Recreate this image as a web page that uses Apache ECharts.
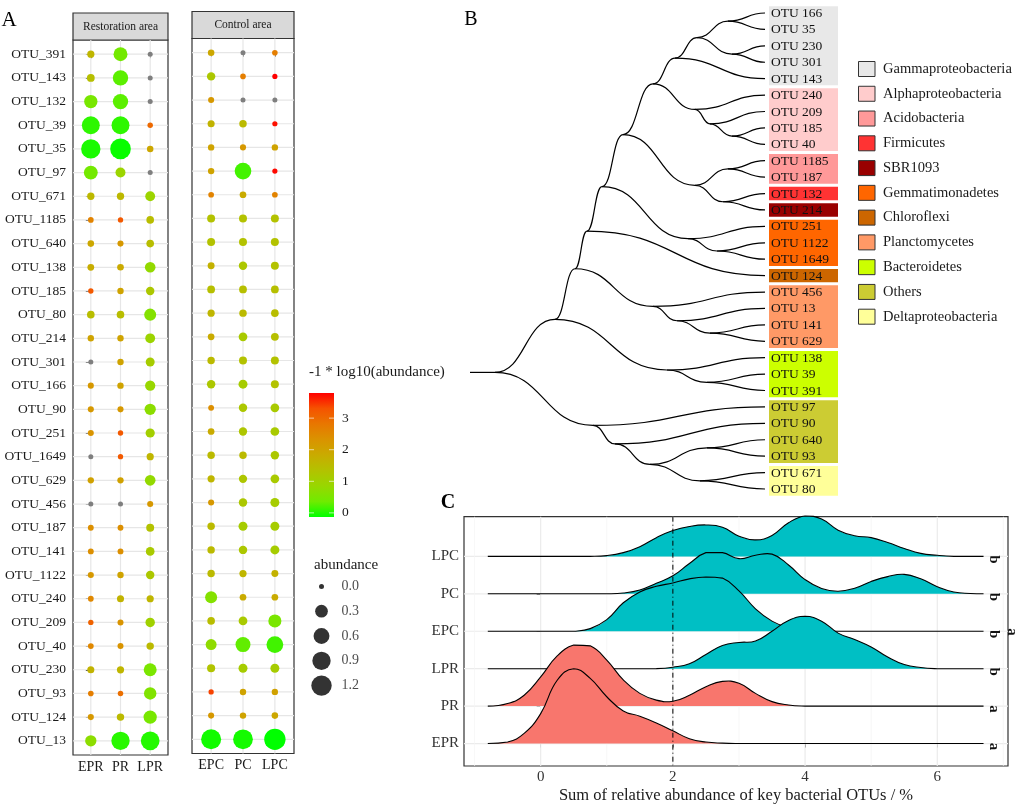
<!DOCTYPE html>
<html><head><meta charset="utf-8">
<script src="https://cdn.jsdelivr.net/npm/echarts@6/dist/echarts.min.js"></script>
<style>html,body{margin:0;padding:0;background:#fff}#c{width:1024px;height:807px}</style>
</head><body><div id="c"></div>
<script>
// ---------------- Panel A data ----------------
const otuRows = ['OTU_391','OTU_143','OTU_132','OTU_39','OTU_35','OTU_97','OTU_671','OTU_1185','OTU_640','OTU_138',
  'OTU_185','OTU_80','OTU_214','OTU_301','OTU_166','OTU_90','OTU_251','OTU_1649','OTU_629','OTU_456',
  'OTU_187','OTU_141','OTU_1122','OTU_240','OTU_209','OTU_40','OTU_230','OTU_93','OTU_124','OTU_13'];
const restSamples = ['EPR','PR','LPR'];
const ctrlSamples = ['EPC','PC','LPC'];
// abundance (0 = absent, drawn grey)
const abEPR = [0.025,0.04,0.35,0.85,1.04,0.40,0.028,0.0025,0.012,0.016,
  0.0006,0.035,0.01,0,0.006,0.006,0.005,0,0.009,0,
  0.004,0.004,0.006,0.003,0.0008,0.003,0.022,0.002,0.006,0.2];
const abPR = [0.40,0.54,0.54,0.85,1.24,0.126,0.028,0.0006,0.006,0.014,
  0.01,0.035,0.01,0.01,0.01,0.006,0.0006,0.0006,0.009,0,
  0.004,0.004,0.01,0.022,0.005,0.005,0.025,0.0012,0.03,0.9];
const abLPR = [0,0,0,0.001,0.012,0,0.12,0.035,0.035,0.16,
  0.06,0.25,0.12,0.08,0.14,0.2,0.09,0.025,0.16,0.006,
  0.045,0.07,0.06,0.025,0.1,0.03,0.32,0.28,0.35,0.95];
const abEPC = [0.012,0.06,0.006,0.022,0.01,0.01,0.0025,0.045,0.045,0.02,
  0.04,0.025,0.015,0.03,0.06,0.004,0.015,0.03,0.025,0.006,
  0.03,0.03,0.03,0.25,0.035,0.18,0.05,0.0004,0.006,1.14];
const abPC = [0,0.002,0,0.03,0.006,0.69,0.015,0.045,0.045,0.06,
  0.04,0.03,0.07,0.045,0.08,0.06,0.055,0.03,0.055,0.06,
  0.08,0.06,0.025,0.015,0.07,0.5,0.08,0.01,0.01,1.1];
const abLPC = [0.002,0.00016,0,0.0002,0.01,0.00018,0.0025,0.045,0.045,0.045,
  0.04,0.035,0.04,0.045,0.045,0.07,0.07,0.06,0.07,0.08,
  0.08,0.08,0.02,0.015,0.33,0.7,0.08,0.009,0.012,1.35];
const sizeBreaks = [0, 0.3, 0.6, 0.9, 1.2];
const colorTicks = [0, 1, 2, 3];

// ---------------- Panel B data ----------------
const treeLeaves = ['OTU 166','OTU 35','OTU 230','OTU 301','OTU 143','OTU 240','OTU 209','OTU 185','OTU 40','OTU 1185',
  'OTU 187','OTU 132','OTU 214','OTU 251','OTU 1122','OTU 1649','OTU 124','OTU 456','OTU 13','OTU 141',
  'OTU 629','OTU 138','OTU 39','OTU 391','OTU 97','OTU 90','OTU 640','OTU 93','OTU 671','OTU 80'];
const groupNames = ['Gammaproteobacteria','Alphaproteobacteria','Acidobacteria','Firmicutes','SBR1093',
  'Gemmatimonadetes','Chloroflexi','Planctomycetes','Bacteroidetes','Others','Deltaproteobacteria'];
const groupColors = ['#E8E8E8','#FFCCCC','#FF9999','#FF3333','#990000','#FF6600','#CC6600','#FF9966','#CCFF00','#CCCC33','#FFFF99'];
const leafGroups = [0,0,0,0,0,1,1,1,1,2,2,3,4,5,5,5,6,7,7,7,7,8,8,8,9,9,9,9,10,10];
// [child, child, merge height]; numbers refer to earlier merges
const treeMerges = [
  ['OTU 166','OTU 35',37], ['OTU 230','OTU 301',33], [0,1,68], [2,'OTU 143',90],
  ['OTU 185','OTU 40',33], ['OTU 209',4,55], ['OTU 240',5,70], [3,6,112],
  ['OTU 1185','OTU 187',37], ['OTU 132','OTU 214',42], [8,9,70], [7,10,142],
  ['OTU 1122','OTU 1649',48], ['OTU 251',12,77], [11,13,163], [14,'OTU 124',178],
  ['OTU 141','OTU 629',55], ['OTU 13',16,88], ['OTU 456',17,112], [15,18,190],
  ['OTU 39','OTU 391',58], ['OTU 138',20,98], [19,21,210],
  ['OTU 640','OTU 93',58], ['OTU 671','OTU 80',65], [23,24,115], ['OTU 90',25,150], ['OTU 97',26,172],
  [22,27,270]
];
const treeRootStub = 25;

// ---------------- Panel C data ----------------
const ridgeNames = ['EPR','PR','LPR','EPC','PC','LPC'];
const ridgeLetters = ['a','a','b','b','b','b'];
const ridgeX = [-0.8,-0.5,-0.25,0,0.25,0.5,0.75,1,1.25,1.5,1.75,2,2.25,2.5,2.75,3,3.25,3.5,3.75,4,4.25,4.5,4.75,5,5.25,5.5,5.75,6,6.25,6.5,6.7];
const dEPR = [0,0.04,0.27,0.8,1.69,2.0,1.74,1.25,0.87,0.73,0.55,0.34,0.13,0.04,0.01,0,0,0,0,0,0,0,0,0,0,0,0,0,0,0,0];
const dPR  = [0,0.07,0.29,0.78,1.34,1.63,1.61,1.23,0.7,0.34,0.16,0.13,0.29,0.52,0.66,0.61,0.34,0.12,0.03,0,0,0,0,0,0,0,0,0,0,0,0];
const dLPR = [0,0,0,0,0,0,0,0,0,0,0,0.04,0.13,0.38,0.62,0.7,0.74,1.0,1.29,1.4,1.27,0.95,0.78,0.58,0.31,0.11,0.03,0,0,0,0];
const dEPC = [0,0,0,0,0,0,0.07,0.31,0.76,1.05,1.2,1.29,1.4,1.45,1.42,1.08,0.6,0.27,0.09,0.02,0,0,0,0,0,0,0,0,0,0,0];
const dPC  = [0,0,0,0,0,0,0,0,0.02,0.1,0.28,0.48,0.81,1.1,1.1,0.94,1.03,1.06,0.77,0.38,0.14,0.07,0.15,0.33,0.46,0.52,0.4,0.19,0.05,0.01,0];
const dLPC = [0,0,0,0,0,0,0,0.02,0.1,0.26,0.5,0.69,0.8,0.84,0.78,0.54,0.44,0.56,0.9,1.08,1.0,0.7,0.55,0.5,0.37,0.21,0.08,0.03,0,0,0];
const ridgeTicksX = [0,2,4,6];
const ridgeMinorX = [-1,1,3,5,7];
const cutoffX = 2;

// ---------------- helpers ----------------
const FONT = '"Liberation Serif","Times New Roman",Times,serif';
const TXT = '#1a1a1a';
const cStops = [[0,[0,255,0]],[0.125,[112,235,0]],[0.25,[152,215,0]],[0.375,[179,194,0]],[0.5,[201,171,0]],
  [0.625,[218,147,0]],[0.75,[232,119,0]],[0.875,[245,83,0]],[1,[255,0,0]]];
const rgb = c => 'rgb(' + c.map(Math.round).join(',') + ')';
function gradColor(t) {
  t = Math.max(0, Math.min(1, t));
  for (let i = 1; i < cStops.length; i++) {
    if (t <= cStops[i][0]) {
      const a = cStops[i-1], b = cStops[i];
      const f = (t - a[0]) / (b[0] - a[0]);
      return rgb(a[1].map((v, k) => v + (b[1][k] - v) * f));
    }
  }
  return rgb(cStops[cStops.length-1][1]);
}
const allAb = [].concat(abEPR, abPR, abLPR, abEPC, abPC, abLPC).filter(a => a > 0);
const negLogs = allAb.map(a => -Math.log10(a));
const vmin = Math.min.apply(null, negLogs), vmax = Math.max.apply(null, negLogs);
const colorOf = a => a > 0 ? gradColor((-Math.log10(a) - vmin) / (vmax - vmin)) : '#7f7f7f';
const sizeOf = a => 5 + 14.06 * Math.sqrt(a);
const rowIdx = otuRows.map((_, i) => i);

function dotData(cols) {
  const out = [];
  cols.forEach((arr, c) => arr.forEach((a, r) => out.push([c, r, a])));
  return out;
}
function gridData(nRows, nCols) {
  const d = [];
  for (let r = 0; r < nRows; r++) d.push([0, r, 0]);
  for (let c = 0; c < nCols; c++) d.push([c, 0, 1]);
  return d;
}
function gridRender(color, widthMinor) {
  return function (params, api) {
    const cs = params.coordSys;
    const kind = api.value(2);
    if (kind === 0) {
      const y = api.coord([0, api.value(1)])[1];
      return {type:'line', shape:{x1:cs.x, y1:y, x2:cs.x+cs.width, y2:y}, style:{stroke:color, lineWidth:1.2}};
    }
    const x = api.coord([api.value(0), 0])[0];
    return {type:'line', shape:{x1:x, y1:cs.y, x2:x, y2:cs.y+cs.height},
      style:{stroke: kind === 2 ? '#f3f3f3' : color, lineWidth: kind === 2 ? widthMinor : 1.2}};
  };
}
function bbox(pts) {
  let x0 = Infinity, y0 = Infinity, x1 = -Infinity, y1 = -Infinity;
  pts.forEach(p => { x0 = Math.min(x0, p[0]); y0 = Math.min(y0, p[1]); x1 = Math.max(x1, p[0]); y1 = Math.max(y1, p[1]); });
  return [[x0, y0], [x1, y1]];
}

// tree layout from merges
const leafIdx = {};
treeLeaves.forEach((n, i) => leafIdx[n] = i);
const nodePos = [];
const treeEdges = [];
const posOf = ref => typeof ref === 'string' ? [0, leafIdx[ref]] : nodePos[ref];
treeMerges.forEach((m, k) => {
  const a = posOf(m[0]), b = posOf(m[1]);
  const p = [m[2], (a[1] + b[1]) / 2];
  nodePos[k] = p;
  treeEdges.push([p[0], p[1], a[0], a[1]], [p[0], p[1], b[0], b[1]]);
});
const rootPos = nodePos[nodePos.length - 1];
treeEdges.push([rootPos[0] + treeRootStub, rootPos[1], rootPos[0], rootPos[1]]);
// contiguous group runs
const groupRuns = [];
leafGroups.forEach((g, i) => {
  const last = groupRuns[groupRuns.length - 1];
  if (last && last[2] === g) last[1] = i; else groupRuns.push([i, i, g]);
});

// ---------------- option ----------------
const hidden = {show:false};
const grids = [
  {left:73, top:40, width:95, height:715},
  {left:192, top:38.5, width:102, height:715},
  {left:309, top:393, width:25, height:124},
  {left:311, top:574, width:21, height:124},
  {left:470, top:13, width:295, height:476},
  {left:464, top:516.7, width:544, height:249.3}
].map(g => Object.assign({show:false, containLabel:false}, g));
grids[0].show = true; grids[0].borderColor = '#333'; grids[0].borderWidth = 1.2;
grids[1].show = true; grids[1].borderColor = '#333'; grids[1].borderWidth = 1.2;
grids[5].show = true; grids[5].borderColor = '#333'; grids[5].borderWidth = 1.2;

const tickStyle = {lineStyle:{color:'#333', width:1}};
const xAxes = [
  {gridIndex:0, type:'value', min:-0.6, max:2.6, axisLine:hidden, splitLine:hidden,
   axisTick:Object.assign({customValues:[0,1,2], length:4}, tickStyle),
   axisLabel:{customValues:[0,1,2], formatter:v => restSamples[Math.round(v)], margin:5, fontFamily:FONT, fontSize:14, color:TXT}},
  {gridIndex:1, type:'value', min:-0.6, max:2.6, axisLine:hidden, splitLine:hidden,
   axisTick:Object.assign({customValues:[0,1,2], length:4}, tickStyle),
   axisLabel:{customValues:[0,1,2], formatter:v => ctrlSamples[Math.round(v)], margin:5, fontFamily:FONT, fontSize:14, color:TXT}},
  {gridIndex:2, type:'value', min:0, max:1, show:false},
  {gridIndex:3, type:'value', min:-1, max:1, show:false},
  {gridIndex:4, type:'value', min:0, max:rootPos[0] + treeRootStub, inverse:true, show:false},
  {gridIndex:5, type:'value', min:-1.16, max:7.07, axisLine:hidden, splitLine:hidden,
   axisTick:Object.assign({customValues:ridgeTicksX, length:4}, tickStyle),
   axisLabel:{customValues:ridgeTicksX, margin:4, fontFamily:FONT, fontSize:15, color:'#333'},
   name:'Sum of relative abundance of key bacterial OTUs / %', nameLocation:'middle', nameGap:21,
   nameTextStyle:{fontFamily:FONT, fontSize:16.5, color:TXT}}
];
const yAxes = [
  {gridIndex:0, type:'value', inverse:true, min:-0.6, max:29.6, axisLine:hidden, splitLine:hidden,
   axisTick:Object.assign({customValues:rowIdx, length:5}, tickStyle),
   axisLabel:{customValues:rowIdx, formatter:v => otuRows[Math.round(v)], margin:7, fontFamily:FONT, fontSize:13.5, color:TXT}},
  {gridIndex:1, type:'value', inverse:true, min:-0.6, max:29.6, show:false},
  {gridIndex:2, type:'value', min:vmin, max:vmax, position:'right', axisLine:hidden, splitLine:hidden, axisTick:hidden,
   axisLabel:{customValues:colorTicks, margin:8, fontFamily:FONT, fontSize:13.5, color:TXT}},
  {gridIndex:3, type:'value', min:-0.5, max:sizeBreaks.length - 0.5, inverse:true, show:false},
  {gridIndex:4, type:'value', min:0, max:treeLeaves.length - 1, inverse:true, show:false},
  {gridIndex:5, type:'value', min:-0.6, max:6.06, axisLine:hidden, splitLine:hidden,
   axisTick:Object.assign({customValues:[0,1,2,3,4,5], length:4}, tickStyle),
   axisLabel:{customValues:[0,1,2,3,4,5], formatter:v => ridgeNames[Math.round(v)], margin:5, fontFamily:FONT, fontSize:15, color:'#333'}}
];

const series = [];
// Panel A gridlines
series.push({type:'custom', xAxisIndex:0, yAxisIndex:0, silent:true, z:1, data:gridData(otuRows.length, 3), renderItem:gridRender('#e6e6e6', 0.6)});
series.push({type:'custom', xAxisIndex:1, yAxisIndex:1, silent:true, z:1, data:gridData(otuRows.length, 3), renderItem:gridRender('#e6e6e6', 0.6)});
// Panel A dots
[[0, [abEPR, abPR, abLPR]], [1, [abEPC, abPC, abLPC]]].forEach(([gi, cols]) => {
  series.push({type:'scatter', xAxisIndex:gi, yAxisIndex:gi, z:3, silent:true, data:dotData(cols),
    symbol:'circle', symbolSize:v => sizeOf(v[2]),
    itemStyle:{color:p => colorOf(p.value[2]), opacity:1}});
});
// colour bar
series.push({type:'custom', xAxisIndex:2, yAxisIndex:2, silent:true, z:3, data:[[0.5, vmin]],
  renderItem:function (params, api) {
    const cs = params.coordSys;
    const stops = cStops.map(s => ({offset:s[0], color:rgb(s[1])}));
    const ch = [{type:'rect', shape:{x:cs.x, y:cs.y, width:cs.width, height:cs.height},
      style:{fill:new echarts.graphic.LinearGradient(0, 1, 0, 0, stops)}}];
    colorTicks.forEach(v => {
      const y = api.coord([0, v])[1];
      ch.push({type:'line', shape:{x1:cs.x, y1:y, x2:cs.x + 5, y2:y}, style:{stroke:'#fff', lineWidth:0.8, opacity:0.8}});
      ch.push({type:'line', shape:{x1:cs.x + cs.width - 5, y1:y, x2:cs.x + cs.width, y2:y}, style:{stroke:'#fff', lineWidth:0.8, opacity:0.8}});
    });
    return {type:'group', children:ch};
  }});
// size legend
series.push({type:'scatter', xAxisIndex:3, yAxisIndex:3, silent:true, z:3,
  data:sizeBreaks.map((s, i) => [0, i, s]), symbolSize:v => sizeOf(v[2]), itemStyle:{color:'#000'}});
series.push({type:'scatter', xAxisIndex:3, yAxisIndex:3, silent:true, z:3,
  data:sizeBreaks.map((s, i) => [0, i, s]), symbolSize:0.1, itemStyle:{color:'transparent'},
  label:{show:true, position:'right', distance:20, formatter:p => p.value[2].toFixed(1), fontFamily:FONT, fontSize:14, color:TXT}});
// tree edges
series.push({type:'custom', xAxisIndex:4, yAxisIndex:4, silent:true, z:3, data:treeEdges, encode:{x:[0,2], y:[1,3]},
  renderItem:function (params, api) {
    const p = api.coord([api.value(0), api.value(1)]);
    const c = api.coord([api.value(2), api.value(3)]);
    const mx = (p[0] + c[0]) / 2;
    return {type:'bezierCurve', shape:{x1:p[0], y1:p[1], x2:c[0], y2:c[1], cpx1:mx, cpy1:p[1], cpx2:mx, cpy2:c[1]},
      style:{stroke:'#000', fill:null, lineWidth:1.2}};
  }});
// leaf group boxes
series.push({type:'custom', xAxisIndex:4, yAxisIndex:4, silent:true, z:2, data:groupRuns.map(r => [0, r[0], r[1], r[2]]),
  renderItem:function (params, api) {
    const a = api.coord([0, api.value(1)]);
    const b = api.coord([0, api.value(2)]);
    const half = (api.coord([0, 1])[1] - api.coord([0, 0])[1]) / 2;
    return {type:'rect', shape:{x:a[0] + 4, y:a[1] - half + 1.5, width:69, height:b[1] - a[1] + 2 * half - 3},
      style:{fill:groupColors[api.value(3)]}};
  }});
// leaf labels
series.push({type:'custom', xAxisIndex:4, yAxisIndex:4, silent:true, z:4, data:treeLeaves.map((n, i) => [0, i]),
  renderItem:function (params, api) {
    const p = api.coord([0, api.value(1)]);
    return {type:'text', x:p[0] + 6, y:p[1] + 0.5,
      style:{text:treeLeaves[params.dataIndex], fontFamily:FONT, fontSize:13.5, fill:'#111', align:'left', verticalAlign:'middle'}};
  }});
// Panel C gridlines
const cGrid = [];
ridgeNames.forEach((n, i) => cGrid.push([0, i, 0]));
ridgeTicksX.forEach(x => cGrid.push([x, 0, 1]));
ridgeMinorX.forEach(x => cGrid.push([x, 0, 2]));
series.push({type:'custom', xAxisIndex:5, yAxisIndex:5, silent:true, z:1, data:cGrid, renderItem:gridRender('#ebebeb', 0.7)});
// ridges: upper ones first so lower ridges overlap them
const ridgeData = [dEPR, dPR, dLPR, dEPC, dPC, dLPC];
const ridgeFill = ['#F8766D','#F8766D','#00BFC4','#00BFC4','#00BFC4','#00BFC4'];
for (let i = ridgeNames.length - 1; i >= 0; i--) {
  series.push({type:'custom', xAxisIndex:5, yAxisIndex:5, silent:true, z:3, data:[[ridgeX[0], i]],
    renderItem:(function (ri) {
      return function (params, api) {
        const pts = ridgeX.map((x, k) => api.coord([x, ri + ridgeData[ri][k]]));
        const bb = bbox(pts);
        return {type:'group', children:[
          {type:'polygon', shape:{points:pts, smooth:0.45, smoothConstraint:bb}, style:{fill:ridgeFill[ri], stroke:null}},
          {type:'polyline', shape:{points:pts, smooth:0.45, smoothConstraint:bb}, style:{stroke:'#000', fill:null, lineWidth:1.1}}
        ]};
      };
    })(i)});
}
// cutoff dashed line
series.push({type:'custom', xAxisIndex:5, yAxisIndex:5, silent:true, z:5, data:[[cutoffX, 0]],
  renderItem:function (params, api) {
    const cs = params.coordSys;
    const x = api.coord([api.value(0), 0])[0];
    return {type:'line', shape:{x1:x, y1:cs.y, x2:x, y2:cs.y + cs.height},
      style:{stroke:'#000', lineWidth:1, lineDash:[5,3,1,3]}};
  }});
// significance letters
series.push({type:'custom', xAxisIndex:5, yAxisIndex:5, silent:true, z:5, data:ridgeNames.map((n, i) => [0, i]),
  renderItem:function (params, api) {
    const cs = params.coordSys;
    const y = api.coord([0, api.value(1)])[1];
    return {type:'text', x:cs.x + cs.width - 14, y:y + 3, rotation:-Math.PI / 2,
      style:{text:ridgeLetters[params.dataIndex], fontFamily:FONT, fontSize:15, fontWeight:'bold', fill:'#111', align:'center', verticalAlign:'middle'}};
  }});

// ---------------- graphic annotations ----------------
const graphic = [
  {type:'text', x:9, y:20, style:{text:'A', fontFamily:FONT, fontSize:21, fill:'#000', align:'center', verticalAlign:'middle'}},
  {type:'text', x:471, y:20, style:{text:'B', fontFamily:FONT, fontSize:20, fill:'#000', align:'center', verticalAlign:'middle'}},
  {type:'text', x:448, y:503, style:{text:'C', fontFamily:FONT, fontSize:20, fontWeight:'bold', fill:'#000', align:'center', verticalAlign:'middle'}},
  {type:'rect', shape:{x:73, y:13, width:95, height:27}, style:{fill:'#D9D9D9', stroke:'#333', lineWidth:1.2}},
  {type:'text', x:120.5, y:26.5, style:{text:'Restoration area', fontFamily:FONT, fontSize:11.5, fill:TXT, align:'center', verticalAlign:'middle'}},
  {type:'rect', shape:{x:192, y:11.5, width:102, height:27}, style:{fill:'#D9D9D9', stroke:'#333', lineWidth:1.2}},
  {type:'text', x:243, y:25, style:{text:'Control area', fontFamily:FONT, fontSize:11.5, fill:TXT, align:'center', verticalAlign:'middle'}},
  {type:'text', x:309, y:372, style:{text:'-1 * log10(abundance)', fontFamily:FONT, fontSize:15, fill:TXT, align:'left', verticalAlign:'middle'}},
  {type:'text', x:314, y:565, style:{text:'abundance', fontFamily:FONT, fontSize:15, fill:TXT, align:'left', verticalAlign:'middle'}},
  {type:'text', x:1012, y:632, rotation:-Math.PI / 2, style:{text:'a', fontFamily:FONT, fontSize:15, fontWeight:'bold', fill:'#111', align:'center', verticalAlign:'middle'}}
];
groupNames.forEach((g, k) => {
  const cy = 69 + k * 24.77;
  graphic.push({type:'rect', shape:{x:858.5, y:cy - 7.5, width:16.5, height:15}, style:{fill:groupColors[k], stroke:'#333', lineWidth:1}});
  graphic.push({type:'text', x:883, y:cy, style:{text:g, fontFamily:FONT, fontSize:14.5, fill:TXT, align:'left', verticalAlign:'middle'}});
});

const chart = echarts.init(document.getElementById('c'), null, {renderer:'canvas'});
chart.setOption({
  animation:false,
  backgroundColor:'#fff',
  grid:grids, xAxis:xAxes, yAxis:yAxes, series:series, graphic:graphic
});
</script></body></html>
